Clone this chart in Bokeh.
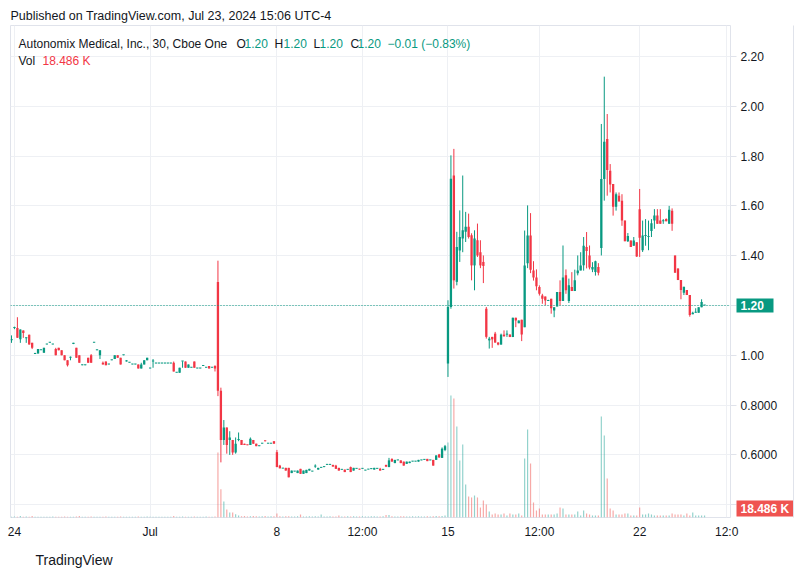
from bokeh.plotting import figure
from bokeh.models import Range1d, FixedTicker, Span, Label, ColumnDataSource, Title, LinearAxis
from bokeh.embed import file_html
from bokeh.resources import INLINE

# ---------------- data (30-minute bars) ----------------
opens = [
    1.060, 1.110, 1.110, 1.064, 1.100, 1.068, 1.083, 1.050, 1.005, 1.007,
    1.020, 1.010, 1.043, 1.050, 1.043, 1.025, 1.030, 1.020, 1.000, 0.980,
    0.990, 1.045, 1.030, 1.000, 0.960, 0.960, 0.990, 1.000, 1.050, 1.020,
    1.000, 0.970, 0.975, 0.963, 0.980, 0.985, 1.000, 0.990, 1.000, 0.975,
    0.970, 0.963, 0.963, 0.963, 0.947, 0.963, 0.980, 0.947, 0.975, 0.967,
    0.967, 0.967, 0.967, 0.967, 0.967, 0.970, 0.930, 0.930, 0.975, 0.975,
    0.950, 0.950, 0.975, 0.947, 0.947, 0.957, 0.950, 0.957, 0.950, 0.957,
    1.294, 0.858, 0.660, 0.710, 0.660, 0.660, 0.610, 0.660, 0.660, 0.645,
    0.640, 0.640, 0.660, 0.645, 0.635, 0.645, 0.656, 0.645, 0.645, 0.655,
    0.611, 0.557, 0.545, 0.548, 0.548, 0.527, 0.533, 0.527, 0.544, 0.524,
    0.527, 0.537, 0.533, 0.553, 0.541, 0.548, 0.551, 0.560, 0.560, 0.560,
    0.557, 0.548, 0.540, 0.541, 0.540, 0.551, 0.537, 0.544, 0.544, 0.544,
    0.537, 0.541, 0.543, 0.541, 0.544, 0.544, 0.540, 0.560, 0.551, 0.584,
    0.567, 0.578, 0.578, 0.573, 0.564, 0.567, 0.573, 0.573, 0.573, 0.578,
    0.580, 0.584, 0.578, 0.580, 0.580, 0.602, 0.588, 0.620, 0.967, 1.194,
    1.722, 1.295, 1.421, 1.469, 1.496, 1.516, 1.482, 1.361, 1.462, 1.414,
    1.375, 1.187, 1.060, 1.074, 1.087, 1.051, 1.043, 1.083, 1.083, 1.084,
    1.073, 1.151, 1.129, 1.143, 1.113, 1.370, 1.481, 1.341, 1.312, 1.274,
    1.240, 1.236, 1.218, 1.227, 1.180, 1.196, 1.254, 1.218, 1.321, 1.218,
    1.274, 1.258, 1.330, 1.341, 1.362, 1.435, 1.401, 1.345, 1.335, 1.355,
    1.431, 1.708, 1.869, 1.741, 1.688, 1.597, 1.641, 1.621, 1.541, 1.458,
    1.461, 1.440, 1.454, 1.587, 1.422, 1.479, 1.475, 1.499, 1.541, 1.561,
    1.541, 1.538, 1.547, 1.528, 1.581, 1.401, 1.349, 1.302, 1.251, 1.262,
    1.242, 1.165, 1.171, 1.171, 1.193, 1.200,
]
highs = [
    1.080, 1.115, 1.153, 1.104, 1.100, 1.072, 1.083, 1.050, 1.010, 1.025,
    1.020, 1.030, 1.044, 1.051, 1.044, 1.030, 1.030, 1.020, 1.000, 0.980,
    0.995, 1.050, 1.030, 1.000, 0.962, 0.961, 0.990, 1.005, 1.051, 1.021,
    1.020, 0.975, 0.975, 0.964, 0.981, 1.000, 1.000, 0.990, 1.001, 0.980,
    0.971, 0.964, 0.964, 0.963, 0.970, 0.980, 0.990, 0.948, 0.985, 0.968,
    0.968, 0.968, 0.968, 0.968, 0.968, 0.975, 0.931, 0.950, 0.976, 0.975,
    0.963, 0.951, 0.975, 0.948, 0.948, 0.958, 0.951, 0.957, 0.951, 0.960,
    1.380, 0.870, 0.740, 0.710, 0.695, 0.660, 0.670, 0.690, 0.660, 0.645,
    0.640, 0.670, 0.660, 0.645, 0.636, 0.646, 0.656, 0.646, 0.646, 0.655,
    0.620, 0.560, 0.546, 0.548, 0.548, 0.537, 0.534, 0.537, 0.544, 0.537,
    0.540, 0.544, 0.534, 0.562, 0.548, 0.549, 0.552, 0.562, 0.561, 0.560,
    0.560, 0.548, 0.541, 0.541, 0.541, 0.553, 0.548, 0.545, 0.544, 0.545,
    0.538, 0.542, 0.544, 0.548, 0.545, 0.548, 0.541, 0.560, 0.588, 0.586,
    0.580, 0.579, 0.578, 0.573, 0.573, 0.573, 0.574, 0.574, 0.580, 0.579,
    0.581, 0.584, 0.579, 0.580, 0.598, 0.604, 0.630, 0.640, 1.221, 1.803,
    1.829, 1.496, 1.582, 1.722, 1.576, 1.569, 1.490, 1.502, 1.529, 1.462,
    1.401, 1.194, 1.074, 1.074, 1.094, 1.053, 1.087, 1.100, 1.100, 1.084,
    1.151, 1.151, 1.140, 1.143, 1.501, 1.602, 1.571, 1.378, 1.345, 1.281,
    1.247, 1.236, 1.223, 1.227, 1.193, 1.254, 1.301, 1.441, 1.345, 1.308,
    1.334, 1.344, 1.401, 1.414, 1.475, 1.495, 1.441, 1.374, 1.380, 1.370,
    1.929, 2.119, 1.969, 1.768, 1.688, 1.654, 1.654, 1.647, 1.541, 1.491,
    1.461, 1.475, 1.454, 1.668, 1.541, 1.547, 1.541, 1.547, 1.587, 1.587,
    1.587, 1.547, 1.550, 1.600, 1.590, 1.401, 1.349, 1.302, 1.275, 1.262,
    1.242, 1.175, 1.189, 1.193, 1.225, 1.200,
]
lows = [
    1.050, 1.105, 1.070, 1.050, 1.070, 1.050, 1.043, 1.025, 1.005, 1.007,
    1.020, 1.010, 1.043, 1.050, 1.043, 1.000, 1.020, 1.000, 0.980, 0.955,
    0.980, 1.045, 0.990, 0.970, 0.960, 0.960, 0.970, 0.970, 1.050, 1.020,
    0.985, 0.963, 0.960, 0.963, 0.980, 0.985, 0.990, 0.963, 1.000, 0.975,
    0.970, 0.963, 0.963, 0.947, 0.947, 0.963, 0.980, 0.947, 0.950, 0.967,
    0.967, 0.967, 0.967, 0.967, 0.967, 0.935, 0.930, 0.930, 0.950, 0.950,
    0.950, 0.950, 0.950, 0.947, 0.947, 0.957, 0.950, 0.947, 0.950, 0.935,
    0.836, 0.570, 0.640, 0.605, 0.600, 0.600, 0.605, 0.655, 0.640, 0.640,
    0.639, 0.640, 0.645, 0.635, 0.635, 0.645, 0.654, 0.645, 0.645, 0.645,
    0.551, 0.546, 0.545, 0.537, 0.510, 0.527, 0.533, 0.527, 0.524, 0.524,
    0.527, 0.537, 0.533, 0.548, 0.541, 0.548, 0.551, 0.560, 0.560, 0.553,
    0.544, 0.537, 0.540, 0.531, 0.540, 0.531, 0.537, 0.544, 0.541, 0.544,
    0.537, 0.541, 0.543, 0.541, 0.544, 0.537, 0.540, 0.551, 0.551, 0.573,
    0.567, 0.578, 0.567, 0.557, 0.564, 0.567, 0.573, 0.573, 0.573, 0.578,
    0.580, 0.575, 0.578, 0.557, 0.580, 0.588, 0.588, 0.615, 0.913, 1.187,
    1.268, 1.281, 1.375, 1.414, 1.455, 1.469, 1.301, 1.261, 1.395, 1.350,
    1.290, 1.067, 1.027, 1.030, 1.051, 1.040, 1.043, 1.076, 1.074, 1.073,
    1.073, 1.113, 1.129, 1.057, 1.113, 1.350, 1.330, 1.300, 1.261, 1.240,
    1.207, 1.201, 1.218, 1.167, 1.153, 1.196, 1.201, 1.218, 1.247, 1.210,
    1.258, 1.258, 1.321, 1.341, 1.340, 1.349, 1.345, 1.334, 1.320, 1.321,
    1.401, 1.621, 1.641, 1.654, 1.561, 1.581, 1.618, 1.520, 1.458, 1.455,
    1.435, 1.440, 1.395, 1.395, 1.415, 1.440, 1.422, 1.475, 1.508, 1.528,
    1.528, 1.528, 1.538, 1.528, 1.500, 1.332, 1.302, 1.225, 1.242, 1.242,
    1.155, 1.165, 1.171, 1.171, 1.193, 1.200,
]
closes = [
    1.065, 1.112, 1.070, 1.104, 1.090, 1.072, 1.043, 1.030, 1.008, 1.025,
    1.021, 1.030, 1.044, 1.051, 1.044, 1.000, 1.020, 1.000, 0.980, 0.960,
    0.991, 1.050, 0.990, 0.970, 0.962, 0.961, 0.970, 0.970, 1.051, 1.021,
    1.020, 0.963, 0.960, 0.964, 0.981, 1.000, 0.990, 0.963, 1.001, 0.980,
    0.971, 0.964, 0.964, 0.947, 0.963, 0.980, 0.990, 0.948, 0.976, 0.968,
    0.968, 0.968, 0.968, 0.968, 0.968, 0.935, 0.931, 0.950, 0.976, 0.950,
    0.963, 0.951, 0.950, 0.948, 0.948, 0.958, 0.951, 0.947, 0.951, 0.947,
    0.858, 0.660, 0.710, 0.640, 0.670, 0.610, 0.645, 0.662, 0.640, 0.640,
    0.639, 0.665, 0.645, 0.635, 0.636, 0.646, 0.655, 0.646, 0.646, 0.645,
    0.551, 0.546, 0.546, 0.537, 0.510, 0.537, 0.534, 0.537, 0.524, 0.537,
    0.540, 0.544, 0.534, 0.554, 0.548, 0.549, 0.552, 0.561, 0.561, 0.553,
    0.544, 0.537, 0.541, 0.531, 0.541, 0.531, 0.548, 0.545, 0.541, 0.545,
    0.538, 0.542, 0.544, 0.548, 0.545, 0.537, 0.541, 0.553, 0.578, 0.573,
    0.580, 0.579, 0.567, 0.557, 0.573, 0.573, 0.574, 0.574, 0.580, 0.579,
    0.581, 0.575, 0.579, 0.557, 0.598, 0.590, 0.625, 0.635, 1.194, 1.709,
    1.301, 1.435, 1.475, 1.502, 1.516, 1.475, 1.361, 1.469, 1.401, 1.361,
    1.359, 1.074, 1.067, 1.064, 1.051, 1.043, 1.083, 1.076, 1.084, 1.073,
    1.151, 1.140, 1.140, 1.084, 1.361, 1.481, 1.344, 1.312, 1.277, 1.247,
    1.227, 1.220, 1.222, 1.189, 1.193, 1.254, 1.218, 1.312, 1.261, 1.281,
    1.258, 1.301, 1.341, 1.361, 1.440, 1.419, 1.353, 1.355, 1.378, 1.332,
    1.708, 1.858, 1.744, 1.686, 1.597, 1.647, 1.618, 1.541, 1.458, 1.479,
    1.435, 1.461, 1.397, 1.472, 1.481, 1.481, 1.479, 1.530, 1.561, 1.528,
    1.528, 1.539, 1.538, 1.585, 1.528, 1.332, 1.302, 1.262, 1.275, 1.242,
    1.162, 1.171, 1.175, 1.193, 1.214, 1.200,
]
volumes_k = [
    8, 9, 7, 15, 8, 9, 7, 15, 8, 7,
    7, 8, 6, 7, 9, 8, 7, 8, 9, 8,
    7, 8, 9, 15, 8, 7, 8, 9, 7, 6,
    8, 7, 9, 7, 6, 8, 7, 9, 7, 8,
    7, 6, 8, 9, 7, 8, 9, 7, 8, 6,
    7, 6, 7, 8, 7, 15, 8, 7, 9, 8,
    7, 8, 9, 7, 8, 7, 9, 8, 7, 9,
    600, 260, 148, 74, 46, 46, 30, 18, 12, 14,
    10, 12, 14, 11, 10, 12, 14, 10, 11, 12,
    37, 12, 10, 11, 12, 10, 9, 11, 28, 10,
    9, 11, 10, 12, 9, 28, 10, 9, 11, 10,
    9, 18, 10, 9, 11, 10, 12, 9, 10, 11,
    9, 10, 11, 12, 9, 10, 11, 23, 23, 11,
    10, 9, 12, 11, 10, 9, 11, 10, 12, 9,
    10, 11, 9, 12, 14, 12, 14, 18, 693, 1127,
    1100, 840, 527, 675, 305, 194, 185, 203, 185, 92,
    157, 120, 55, 28, 37, 28, 28, 37, 18, 37,
    28, 28, 37, 18, 545, 813, 500, 139, 65, 83,
    28, 28, 28, 28, 28, 37, 92, 83, 28, 28,
    28, 28, 55, 18, 65, 37, 28, 18, 18, 18,
    933, 758, 360, 83, 65, 28, 28, 28, 37, 37,
    18, 18, 18, 92, 28, 28, 37, 28, 18, 18,
    18, 18, 18, 18, 37, 28, 28, 28, 18, 37,
    18, 46, 18, 18, 18, 18.486,
]
time_tick_idx = [1, 47, 90, 119, 148, 179, 213, 242.5]
time_tick_labels = ["24", "Jul", "8", "12:00", "15", "12:00", "22", "12:0"]
price_ticks = [0.4, 0.6, 0.8, 1.0, 1.2, 1.4, 1.6, 1.8, 2.0, 2.2]
price_tick_labels = ["", "0.6000", "0.8000", "1.00", "", "1.40",
                     "1.60", "1.80", "2.00", "2.20"]
last_price = 1.20
last_price_label = "1.20"
last_volume_label = "18.486 K"
header_text = "Published on TradingView.com, Jul 23, 2024 15:06 UTC-4"
symbol_text = "Autonomix Medical, Inc., 30, Cboe One"

# ---------------- styling ----------------
UP = "#089981"
DOWN = "#F23645"
VOL_UP = "#26a69a"
VOL_DOWN = "#ef5350"
TXT = "#131722"
GRID = "#eef0f4"
BORDER = "#e0e3eb"
FONT = "Liberation Sans"
Y0, Y1 = 0.3486, 2.3245
VOL_TOP = 4546          # volume pane scale (thousands) over the full pane height
PANE_PX = 492

n = len(closes)
idx = list(range(n))
min_h = 0.004
bottoms = [min(o, c) for o, c in zip(opens, closes)]
tops = [max(max(o, c), b + min_h) for o, c, b in zip(opens, closes, bottoms)]
colors = [UP if c >= o else DOWN for o, c in zip(opens, closes)]
vcolors = [VOL_UP if c >= o else VOL_DOWN for o, c in zip(opens, closes)]

src = ColumnDataSource(dict(x=idx, o=opens, h=highs, l=lows, c=closes,
                            top=tops, bottom=bottoms, color=colors,
                            vcolor=vcolors, vol=volumes_k))

p = figure(width=808, height=579,
           x_range=Range1d(-0.34, 243.8), y_range=Range1d(Y0, Y1),
           output_backend="svg", toolbar_location=None, y_axis_location=None,
           min_border_left=10, min_border_right=78, min_border_top=25,
           min_border_bottom=62)
p.extra_y_ranges = {"vol": Range1d(0, VOL_TOP)}
p.background_fill_color = "white"
p.border_fill_color = "white"
p.outline_line_color = BORDER

# header / footer as titles (outside the frame)
p.title = Title(text=header_text, align="left", offset=0, standoff=5,
                text_font=FONT, text_font_size="12.5px", text_font_style="normal",
                text_color=TXT)
p.add_layout(Title(text="TradingView", align="left", offset=25, standoff=16,
                   text_font=FONT, text_font_size="14px", text_font_style="normal",
                   text_color=TXT), "below")

# time axis
xa = p.xaxis[0]
xa.ticker = FixedTicker(ticks=time_tick_idx)
xa.major_label_overrides = {t: l for t, l in zip(time_tick_idx, time_tick_labels)}
xa.axis_line_color = None
xa.major_tick_line_color = None
xa.minor_tick_line_color = None
xa.major_tick_out = 0
xa.major_tick_in = 0
xa.major_label_standoff = 7
xa.major_label_text_font = FONT
xa.major_label_text_font_size = "12px"
xa.major_label_text_color = TXT


def scale_axis(ticks, labels, **kw):
    opts = dict(axis_line_color=None, minor_tick_line_color=None,
                major_tick_in=0, major_tick_out=0, major_label_standoff=0,
                major_label_text_font=FONT, major_label_text_font_size="12px")
    opts.update(kw)
    ax = LinearAxis(ticker=FixedTicker(ticks=ticks),
                    major_label_overrides=dict(zip(ticks, labels)), **opts)
    p.add_layout(ax, "right")
    return ax


# level of the volume badge (kept inside the pane, as TradingView does)
vol_badge_level = max(volumes_k[-1], VOL_TOP * 9 / PANE_PX)
vol_badge_price = Y0 + vol_badge_level / VOL_TOP * (Y1 - Y0)

# price-scale tick marks
scale_axis(price_ticks, [""] * len(price_ticks), major_tick_out=6,
           major_tick_line_color=BORDER)
# last-price badge box
scale_axis([last_price], [""], major_tick_out=37, major_tick_line_width=14,
           major_tick_line_color=UP)
# last-volume badge box
scale_axis([vol_badge_price], [""], major_tick_in=37, major_tick_out=20,
           major_tick_line_width=16, major_tick_line_color=VOL_DOWN)
# badge texts
scale_axis([last_price, vol_badge_price], [last_price_label, last_volume_label],
           major_tick_line_color=None, major_label_standoff=-53,
           major_label_text_color="white", major_label_text_font_style="bold")
# price labels (its axis line is the right border of the widget)
scale_axis(price_ticks, price_tick_labels, major_tick_line_color=None,
           major_label_standoff=-53, major_label_text_color=TXT,
           axis_line_color=BORDER)

p.xgrid.grid_line_color = GRID
p.ygrid.grid_line_color = GRID
p.ygrid.ticker = FixedTicker(ticks=price_ticks)

# volume
p.vbar(x="x", width=0.4, top="vol", bottom=0, fill_color="vcolor",
       fill_alpha=0.5, line_color=None, y_range_name="vol", source=src)
# candles
p.segment(x0="x", y0="l", x1="x", y1="h", line_color="color", line_width=1, source=src)
p.vbar(x="x", width=0.78, top="top", bottom="bottom", fill_color="color",
       line_color=None, source=src)

# last price line
p.add_layout(Span(location=last_price, dimension="width", line_color=UP,
                  line_dash="1 2", line_width=1))


def lab(x, y, text, color=TXT, size="12px", style="normal", **kw):
    p.add_layout(Label(x=x, y=y, x_units="screen", y_units="screen", text=text,
                       text_color=color, text_font=FONT, text_font_size=size,
                       text_font_style=style, text_baseline="middle", **kw))


lab(8, 474, symbol_text)
lab(226, 474, "O")
lab(234, 474, "1.20", UP)
lab(264, 474, "H")
lab(273, 474, "1.20", UP)
lab(303, 474, "L")
lab(309, 474, "1.20", UP)
lab(340, 474, "C")
lab(347, 474, "1.20", UP)
lab(377, 474, "\u22120.01 (\u22120.83%)", UP)
lab(8, 457, "Vol")
lab(32, 457, last_volume_label, DOWN)

open("out.html", "w").write(file_html(p, INLINE))
